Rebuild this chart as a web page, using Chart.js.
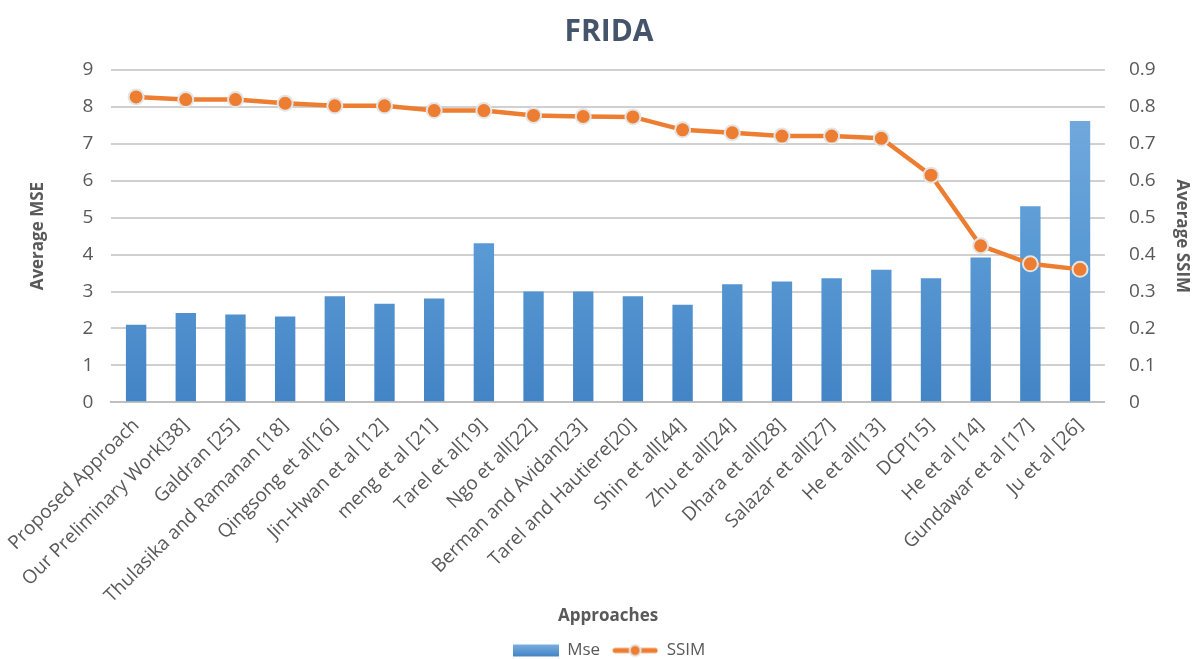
<!DOCTYPE html>
<html>
<head>
<meta charset="utf-8">
<script src="https://cdn.jsdelivr.net/npm/chart.js@4.4.1/dist/chart.umd.min.js"></script>
<style>
  html, body { margin: 0; padding: 0; background: #ffffff; }
  #wrap { width: 1194px; height: 659px; }
</style>
</head>
<body>
<div id="wrap"><canvas id="fridaChart"></canvas></div>
<script>
// Data
const approaches = [
    'Proposed Approach', 'Our Preliminary Work[38]', 'Galdran [25]', 'Thulasika and Ramanan [18]',
    'Qingsong et al[16]', 'Jin-Hwan et al [12]', 'meng et al [21]', 'Tarel et al[19]',
    'Ngo et all[22]', 'Berman and Avidan[23]', 'Tarel and Hautiere[20]', 'Shin et all[44]',
    'Zhu et all[24]', 'Dhara et all[28]', 'Salazar et all[27]', 'He et all[13]',
    'DCP[15]', 'He et al [14]', 'Gundawar et al [17]', 'Ju et al [26]'
];
const mseValues = [2.10, 2.42, 2.38, 2.32, 2.87, 2.67, 2.81, 4.31, 3.00, 3.00,
                   2.87, 2.64, 3.20, 3.27, 3.36, 3.59, 3.36, 3.92, 5.31, 7.62];
const ssimValues = [0.827, 0.820, 0.820, 0.810, 0.803, 0.803, 0.790, 0.790, 0.777, 0.774,
                    0.773, 0.738, 0.730, 0.721, 0.721, 0.715, 0.615, 0.424, 0.375, 0.360];
const mseTicks = [0, 1, 2, 3, 4, 5, 6, 7, 8, 9];
const ssimTicks = [0, 0.1, 0.2, 0.3, 0.4, 0.5, 0.6, 0.7, 0.8, 0.9];

const textColor = '#595959';
const fontFamily = '"Open Sans", sans-serif';

// vertical gradient for the bars, lighter at the top
function barGradient(context) {
    const area = context.chart.chartArea;
    if (!area) return '#5b9bd5';
    const g = context.chart.ctx.createLinearGradient(0, area.top, 0, area.bottom);
    g.addColorStop(0, '#7aaee0');
    g.addColorStop(0.5, '#5b9bd5');
    g.addColorStop(1, '#4384c6');
    return g;
}

// little legend markers: a bar swatch and a line with a dot
function makeMarker(kind) {
    const c = document.createElement('canvas');
    c.width = 46;
    c.height = 16;
    const m = c.getContext('2d');
    if (kind === 'bar') {
        const g = m.createLinearGradient(0, 2, 0, 14);
        g.addColorStop(0, '#7aaee0');
        g.addColorStop(1, '#4384c6');
        m.fillStyle = g;
        m.fillRect(0, 2, 46, 12);
    } else {
        m.strokeStyle = '#ed7d31';
        m.lineWidth = 5;
        m.lineCap = 'round';
        m.beginPath();
        m.moveTo(3, 8);
        m.lineTo(43, 8);
        m.stroke();
        m.beginPath();
        m.arc(23, 8, 5.5, 0, Math.PI * 2);
        m.fillStyle = '#ed7d31';
        m.fill();
        m.lineWidth = 2;
        m.strokeStyle = '#e4e4e4';
        m.stroke();
    }
    return c;
}
const legendMarkers = [makeMarker('bar'), makeMarker('line')];

const ctx = document.getElementById('fridaChart').getContext('2d');
new Chart(ctx, {
    data: {
        labels: approaches,
        datasets: [{
            type: 'bar',
            label: 'Mse',
            data: mseValues,
            yAxisID: 'yMse',
            backgroundColor: barGradient,
            borderWidth: 0,
            barPercentage: 0.41,
            categoryPercentage: 1.0,
            order: 2
        }, {
            type: 'line',
            label: 'SSIM',
            data: ssimValues,
            yAxisID: 'ySsim',
            borderColor: '#ed7d31',
            backgroundColor: '#ed7d31',
            borderWidth: 4.5,
            pointRadius: 7.5,
            pointBackgroundColor: '#ed7d31',
            pointBorderColor: '#e4e4e4',
            pointBorderWidth: 2,
            tension: 0,
            order: 1
        }]
    },
    options: {
        responsive: true,
        maintainAspectRatio: false,
        animation: false,
        layout: { padding: { left: 24, right: 0, top: 10, bottom: -10 } },
        plugins: {
            title: {
                display: true,
                text: 'FRIDA',
                color: '#44546a',
                font: { family: fontFamily, size: 30, weight: 'bold' },
                padding: { top: 4, bottom: 20 }
            },
            legend: {
                position: 'bottom',
                labels: {
                    color: textColor,
                    font: { family: fontFamily, size: 17 },
                    usePointStyle: true,
                    pointStyleWidth: 46,
                    boxHeight: 16,
                    padding: 12,
                    sort: (a, b) => a.datasetIndex - b.datasetIndex,
                    generateLabels: chart => {
                        const items = Chart.defaults.plugins.legend.labels.generateLabels(chart);
                        items.forEach(item => { item.pointStyle = legendMarkers[item.datasetIndex]; });
                        return items;
                    }
                }
            },
            tooltip: { enabled: false }
        },
        scales: {
            x: {
                grid: { display: false },
                border: { color: '#bfbfbf', width: 2 },
                ticks: {
                    color: textColor,
                    font: { family: fontFamily, size: 19 },
                    autoSkip: false,
                    minRotation: 45,
                    maxRotation: 45,
                    padding: 4
                },
                // rotated labels leave spare room under them; let the plot use it
                afterFit: scale => { scale.height -= 6; },
                title: {
                    display: true,
                    text: 'Approaches',
                    color: textColor,
                    font: { family: fontFamily, size: 17, weight: 'bold' },
                    padding: { top: 0, bottom: 4 }
                }
            },
            yMse: {
                position: 'left',
                min: 0,
                max: 9,
                afterBuildTicks: axis => { axis.ticks = mseTicks.map(v => ({ value: v })); },
                grid: { color: '#d0d0d0', lineWidth: 2, drawTicks: false },
                border: { display: false },
                ticks: {
                    color: textColor,
                    font: { family: fontFamily, size: 19 },
                    padding: 18
                },
                title: {
                    display: true,
                    text: 'Average MSE',
                    color: textColor,
                    font: { family: fontFamily, size: 17, weight: 'bold' },
                    padding: { bottom: 16 }
                }
            },
            ySsim: {
                position: 'right',
                min: 0,
                max: 0.9,
                afterBuildTicks: axis => { axis.ticks = ssimTicks.map(v => ({ value: v })); },
                grid: { display: false },
                border: { display: false },
                ticks: {
                    color: textColor,
                    font: { family: fontFamily, size: 19 },
                    padding: 16,
                    callback: v => String(Math.round(v * 10) / 10)
                },
                title: {
                    display: true,
                    text: 'Average SSIM',
                    color: textColor,
                    font: { family: fontFamily, size: 17, weight: 'bold' },
                    padding: { top: 2, bottom: 0 }
                }
            }
        }
    }
});
</script>
</body>
</html>
